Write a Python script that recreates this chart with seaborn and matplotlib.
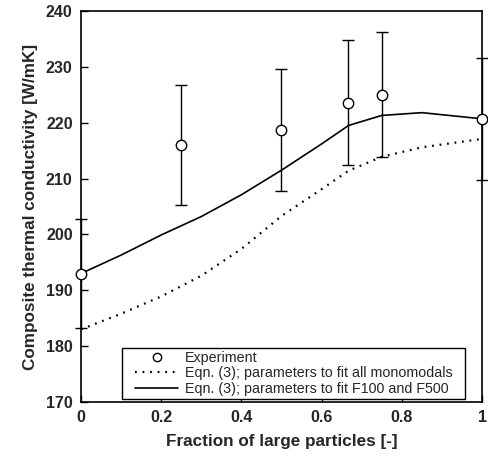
import matplotlib
matplotlib.use("Agg")
import matplotlib.pyplot as plt
from matplotlib.lines import Line2D
from matplotlib.patches import Rectangle
import seaborn as sns
import pandas as pd

# Measured composite conductivity vs. fraction of large particles
exp_x = [0.0, 0.25, 0.5, 0.667, 0.75, 1.0]
exp_y = [193.0, 216.0, 218.7, 223.6, 225.0, 220.7]
exp_err = [9.8, 10.7, 11.0, 11.2, 11.2, 10.9]

# Model curves, Eqn. (3)
model_x = [0.0, 0.1, 0.2, 0.3, 0.4, 0.5, 0.6, 0.667, 0.75, 0.85, 1.0]
mono_y = [183.0, 185.8, 188.9, 192.6, 197.4, 203.3, 208.1, 211.4, 213.9, 215.6, 217.1]
f100_y = [193.0, 196.3, 199.9, 203.2, 207.1, 211.5, 216.2, 219.5, 221.3, 221.8, 220.7]

labels = ["Experiment",
          "Eqn. (3); parameters to fit all monomodals",
          "Eqn. (3); parameters to fit F100 and F500"]

sns.set_style("ticks")
plt.rcParams["font.family"] = ["Liberation Sans", "DejaVu Sans"]

fig = plt.figure(figsize=(4.89, 4.54), dpi=100)
ax = fig.add_axes([0.1656, 0.1145, 0.8201, 0.8613])

df = pd.DataFrame({"x": model_x, "mono": mono_y, "f100": f100_y})

dot_style = (0, (0.8, 2.6))
sns.lineplot(data=df, x="x", y="mono", ax=ax, color="black", lw=1.6,
             linestyle=dot_style, clip_on=False, zorder=2, legend=False)
sns.lineplot(data=df, x="x", y="f100", ax=ax, color="black", lw=1.2,
             clip_on=False, zorder=2, legend=False)

eb = ax.errorbar(exp_x, exp_y, yerr=exp_err, fmt="o", color="black", mfc="white",
                 mec="black", ms=7.5, mew=1.0, elinewidth=1.0, capsize=4, capthick=1.0,
                 clip_on=False, zorder=4)
eb.lines[0].set_clip_on(False)
for cap in eb.lines[1]:
    cap.set_clip_on(False)
for bar in eb.lines[2]:
    bar.set_clip_on(False)

ax.set_xlim(0, 1)
ax.set_ylim(170, 240)
ax.set_xticks([0, 0.2, 0.4, 0.6, 0.8, 1.0])
ax.set_xticklabels(["0", "0.2", "0.4", "0.6", "0.8", "1"])
ax.set_yticks(range(170, 241, 10))

for side in ["top", "right", "left", "bottom"]:
    ax.spines[side].set_visible(True)
    ax.spines[side].set_color("black")
    ax.spines[side].set_linewidth(1.2)

ax.tick_params(axis="both", direction="in", length=5, width=1.0, color="black",
               labelsize=11.5, pad=6)
for lab in ax.get_xticklabels() + ax.get_yticklabels():
    lab.set_fontweight("bold")

ax.set_xlabel("Fraction of large particles [-]", fontsize=12.3, fontweight="bold", labelpad=6)
ax.set_ylabel("Composite thermal conductivity [W/mK]", fontsize=12.3, fontweight="bold", labelpad=6)

handles = [
    Line2D([], [], ls="none", marker="o", ms=6, mfc="white", mec="black", mew=1.0),
    Line2D([], [], color="black", lw=1.6, ls=dot_style),
    Line2D([], [], color="black", lw=1.2),
]
leg = ax.legend(handles, labels, loc="lower right", bbox_to_anchor=(0.933, 0.008),
                borderaxespad=0, fontsize=10.3, frameon=False,
                handlelength=3.0, handletextpad=0.45, labelspacing=0.12,
                borderpad=0.2)
leg.set_zorder(6)

# Legend box with wider side padding than top/bottom
fig.canvas.draw()
bb = leg.get_window_extent().transformed(fig.transFigure.inverted())
padx = 10.0 / fig.bbox.width
frame = Rectangle((bb.x0 - padx, bb.y0), bb.width + 2 * padx, bb.height,
                  transform=fig.transFigure, facecolor="white",
                  edgecolor="black", lw=1.0, zorder=5, clip_on=False)
ax.add_patch(frame)

fig.savefig("out.png", dpi=100)
